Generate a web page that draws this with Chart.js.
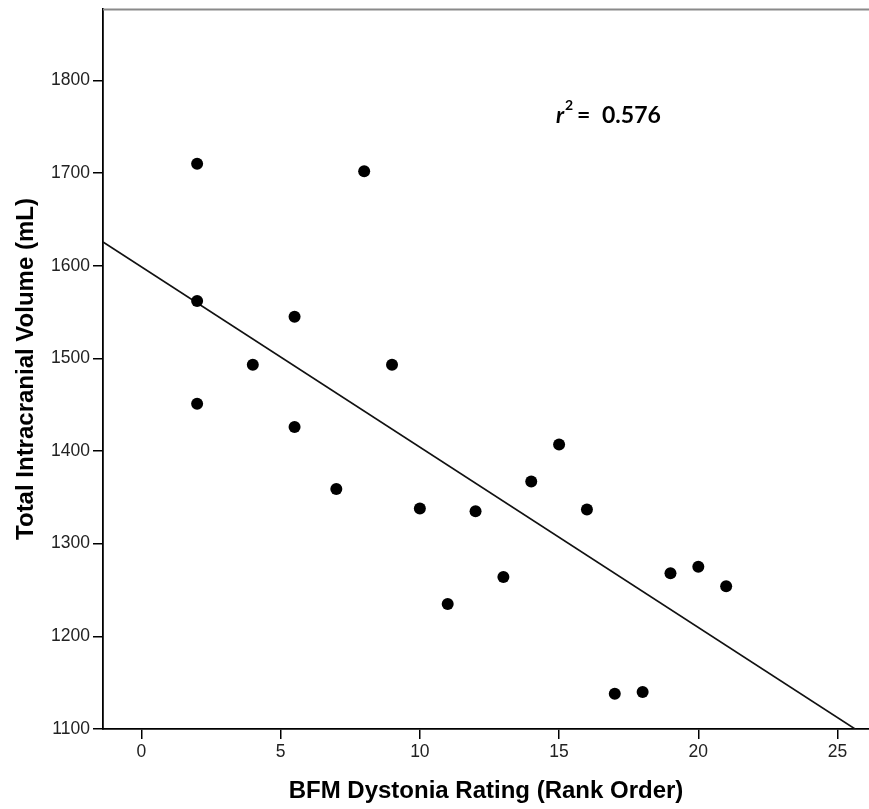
<!DOCTYPE html>
<html><head><meta charset="utf-8">
<script src="https://cdn.jsdelivr.net/npm/chart.js@4.4.1/dist/chart.umd.min.js"></script>
<style>html,body{margin:0;padding:0;background:#fff;overflow:hidden;}</style>
</head><body>
<canvas id="c" width="869" height="809"></canvas>
<script>
// Data
const rankX   = [2, 2, 2, 4, 5.5, 5.5, 7, 8, 9, 10, 11, 12, 13, 14, 15, 16, 17, 18, 19, 20, 21];
const volumeY = [1710, 1562, 1451, 1493, 1545, 1426, 1359, 1702, 1493, 1338, 1235, 1335, 1264, 1367, 1407, 1337, 1138, 1140, 1268, 1275, 1254];
const fitX = [-1.38, 25.63];
const fitY = [1625.6, 1100];
const xTicks = [0, 5, 10, 15, 20, 25];
const yTicks = [1100, 1200, 1300, 1400, 1500, 1600, 1700, 1800];
const rSquaredText = '0.576';
const xTitle = 'BFM Dystonia Rating (Rank Order)';
const yTitle = 'Total Intracranial Volume (mL)';

const extras = {
  id: 'extras',
  afterDraw(chart) {
    const ctx = chart.ctx, a = chart.chartArea;
    ctx.save();
    ctx.strokeStyle = '#8a8a8a';
    ctx.lineWidth = 2;
    ctx.beginPath();
    ctx.moveTo(a.left, a.top + 0.5);
    ctx.lineTo(a.right, a.top + 0.5);
    ctx.stroke();
    // r^2 annotation
    ctx.fillStyle = '#000';
    ctx.textBaseline = 'alphabetic';
    ctx.textAlign = 'left';
    ctx.font = 'italic bold 23px Lato';
    ctx.fillText('r', 556, 123);
    ctx.font = 'bold 14px Lato';
    ctx.fillText('2', 565, 110);
    ctx.font = 'bold 23px Lato';
    ctx.fillText('=', 577, 123);
    ctx.fillText(rSquaredText, 602, 123);
    ctx.restore();
  }
};

const tickFont = { family: 'Liberation Sans', size: 17.5 };
const titleFont = { family: 'Liberation Sans', size: 24, weight: 'bold' };
const plain = v => String(v);

new Chart(document.getElementById('c'), {
  data: {
    datasets: [
      {
        type: 'scatter',
        data: rankX.map((x, i) => ({ x, y: volumeY[i] })),
        backgroundColor: '#000',
        borderWidth: 0,
        pointRadius: 6,
        order: 1
      },
      {
        type: 'line',
        data: fitX.map((x, i) => ({ x, y: fitY[i] })),
        borderColor: '#111',
        borderWidth: 1.6,
        pointRadius: 0,
        fill: false,
        order: 2
      }
    ]
  },
  options: {
    responsive: false,
    animation: false,
    devicePixelRatio: 1,
    layout: { autoPadding: false, padding: { top: 9, left: 0, right: 0, bottom: 0 } },
    plugins: { legend: { display: false }, tooltip: { enabled: false } },
    scales: {
      x: {
        type: 'linear',
        min: -1.38,
        max: 26.13,
        afterBuildTicks: s => { s.ticks = xTicks.map(v => ({ value: v })); },
        afterFit: s => { s.height = 80; s.paddingLeft = 0; s.paddingRight = 0; },
        grid: { drawOnChartArea: false, drawTicks: true, tickLength: 10, color: '#000', lineWidth: 1.5 },
        border: { color: '#000', width: 1.8 },
        ticks: { color: '#222', font: tickFont, padding: 3, maxRotation: 0, autoSkip: false, callback: plain },
        title: { display: true, text: xTitle, color: '#000', font: titleFont, padding: { top: 0, bottom: 3 } }
      },
      y: {
        type: 'linear',
        min: 1100,
        max: 1877,
        afterBuildTicks: s => { s.ticks = yTicks.map(v => ({ value: v })); },
        afterFit: s => { s.width = 103; s.paddingTop = 0; s.paddingBottom = 0; },
        grid: { drawOnChartArea: false, drawTicks: true, tickLength: 10, color: '#000', lineWidth: 1.5 },
        border: { color: '#000', width: 1.8 },
        ticks: { color: '#222', font: tickFont, padding: 3, autoSkip: false, callback: plain },
        title: { display: true, text: yTitle, color: '#000', font: titleFont, padding: { top: 12, bottom: 0 } }
      }
    }
  },
  plugins: [extras]
});
</script>
</body></html>
